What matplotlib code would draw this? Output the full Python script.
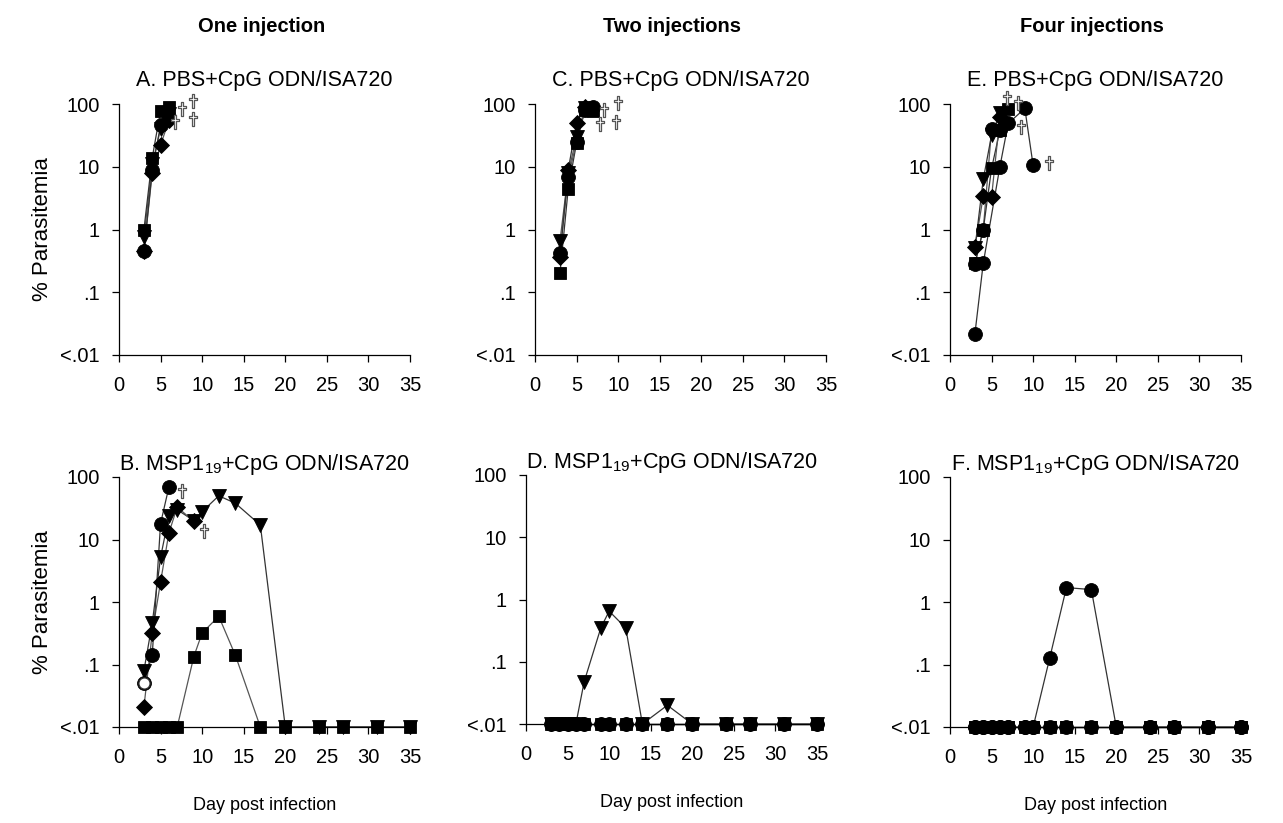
import numpy as np
import matplotlib.pyplot as plt
from matplotlib.path import Path

plt.rcParams['font.family'] = ['Liberation Sans', 'DejaVu Sans']
plt.rcParams['mathtext.fontset'] = 'custom'
plt.rcParams['mathtext.rm'] = 'Liberation Sans'
plt.rcParams['mathtext.it'] = 'Liberation Sans:italic'

LOD = 0.01  # "<.01" detection limit
all_days = [3, 4, 5, 6, 7, 9, 10, 12, 14, 17, 20, 24, 27, 31, 35]

# ---- A. one injection, PBS ----
a_days = [3, 4, 5, 6]
a_circle = [0.45, 9, 46, 62]
a_square = [1.0, 14, 78, 90]
a_diamond = [0.45, 8, 22, 55]
a_triangle = [0.75, 11, 40, 70]
a_dead_x = [6.75, 7.55, 8.9, 8.95]
a_dead_y = [52, 82, 57, 110]

# ---- B. one injection, MSP1-19 ----
b_circle_days = [3, 4, 5, 6]
b_circle = [0.051, 0.143, 18, 69]
b_diamond_days = [3, 4, 5, 6, 7, 9]
b_diamond = [0.021, 0.32, 2.1, 12.7, 33, 19.5]
b_triangle = [0.08, 0.46, 5.2, 23.5, 30, 20, 28, 50, 38, 17, LOD, LOD, LOD, LOD, LOD]
b_square = [LOD, LOD, LOD, LOD, LOD, 0.134, 0.32, 0.59, 0.14, LOD, LOD, LOD, LOD, LOD, LOD]
b_dead_x = [7.55, 10.2]
b_dead_y = [59, 13.5]

# ---- C. two injections, PBS ----
c_days5 = [3, 4, 5, 6, 7]
c_days4 = [3, 4, 5, 6]
c_square = [0.2, 4.5, 24, 80, 78]
c_circle = [0.42, 6.8, 25, 80, 88]
c_diamond = [0.37, 9, 50, 90]
c_triangle = [0.65, 8, 30, 85]
c_dead_x = [7.8, 8.3, 9.7, 9.95]
c_dead_y = [48, 80, 52, 105]

# ---- D. two injections, MSP1-19 ----
d_triangle = [LOD, LOD, LOD, LOD, 0.048, 0.35, 0.65, 0.35, LOD, 0.02, LOD, LOD, LOD, LOD, LOD]
d_flat = [LOD] * len(all_days)

# ---- E. four injections, PBS ----
e_square_days = [3, 4, 5, 6, 7]
e_square = [0.29, 1.0, 9.4, 38, 82]
e_diamond_days = [3, 4, 5, 6]
e_diamond = [0.53, 3.4, 3.3, 61]
e_triangle_days = [3, 4, 5, 6]
e_triangle = [0.5, 6.3, 32, 71]
e_circle1_days = [3, 4, 6, 7, 9, 10]
e_circle1 = [0.022, 0.29, 10, 49, 85, 10.5]
e_circle2_days = [3, 4, 5, 6]
e_circle2 = [0.28, 1.0, 40, 38]
e_dead_x = [6.85, 8.2, 8.55, 11.9]
e_dead_y = [123, 105, 43, 11.5]

# ---- F. four injections, MSP1-19 ----
f_circle = [LOD, LOD, LOD, LOD, LOD, LOD, LOD, 0.128, 1.7, 1.58, LOD, LOD, LOD, LOD, LOD]
f_flat = [LOD] * len(all_days)

# hollow latin cross marker for dead mice
cross = Path([(-0.15, -1), (0.15, -1), (0.15, 0.2), (0.55, 0.2), (0.55, 0.48),
              (0.15, 0.48), (0.15, 1), (-0.15, 1), (-0.15, 0.48), (-0.55, 0.48),
              (-0.55, 0.2), (-0.15, 0.2), (-0.15, -1)], closed=True)

W, H = 1283, 823
fig = plt.figure(figsize=(W / 100, H / 100), dpi=100)


def make_ax(left, right, top, bottom):
    ax = fig.add_axes([left / W, 1 - bottom / H, (right - left) / W, (bottom - top) / H])
    ax.set_yscale('log')
    ax.set_ylim(0.01, 100)
    ax.set_xlim(0, 35)
    ax.set_yticks([0.01, 0.1, 1, 10, 100])
    ax.set_yticklabels(['<.01', '.1', '1', '10', '100'])
    ax.minorticks_off()
    ax.set_xticks(range(0, 36, 5))
    for s in ['top', 'right']:
        ax.spines[s].set_visible(False)
    for s in ['left', 'bottom']:
        ax.spines[s].set_linewidth(0.9)
    ax.tick_params(axis='both', direction='out', length=5, width=0.9,
                   labelsize=14.5, colors='black')
    ax.tick_params(axis='y', pad=9)
    ax.tick_params(axis='x', pad=10)
    return ax


def series(ax, x, y, marker, ms, lc='#333333', mfc='black'):
    ax.plot(x, y, color=lc, lw=0.9, zorder=2, clip_on=False)
    ax.plot(x, y, ls='none', marker=marker, ms=ms, mfc=mfc, mec='black',
            mew=0.6, zorder=3, clip_on=False)


def dead(ax, x, y):
    ax.plot(x, y, ls='none', marker=cross, ms=10, mfc='white',
            mec='#555555', mew=0.9, zorder=4, clip_on=False)


axA = make_ax(119, 410, 104, 355)
axB = make_ax(119, 410, 477, 727)
axC = make_ax(535, 826, 104, 355)
axD = make_ax(526, 817, 475, 724)
axE = make_ax(950, 1241, 104, 355)
axF = make_ax(950, 1241, 477, 727)

CIR, SQ, DIA, TRI = 10, 9, 8.5, 10

# A
series(axA, a_days, a_triangle, 'v', TRI, '#555555')
series(axA, a_days, a_diamond, 'D', DIA, '#555555')
series(axA, a_days, a_circle, 'o', CIR)
series(axA, a_days, a_square, 's', SQ)
dead(axA, a_dead_x, a_dead_y)

# B
series(axB, all_days, b_square, 's', SQ, '#555555')
series(axB, all_days, b_triangle, 'v', TRI)
series(axB, b_diamond_days, b_diamond, 'D', DIA, '#555555')
series(axB, b_circle_days, b_circle, 'o', CIR)
axB.plot(b_circle_days[0], b_circle[0], marker='o', ms=8, mfc='white', mec='#333333',
         mew=0.9, zorder=4)
dead(axB, b_dead_x, b_dead_y)

# C
series(axC, c_days4, c_triangle, 'v', TRI, '#555555')
series(axC, c_days5, c_square, 's', SQ)
series(axC, c_days5, c_circle, 'o', CIR, '#555555')
series(axC, c_days4, c_diamond, 'D', DIA)
dead(axC, c_dead_x, c_dead_y)

# D
series(axD, all_days, d_flat, 's', SQ - 1)
series(axD, all_days, d_flat, 'D', DIA - 1)
series(axD, all_days, d_triangle, 'v', TRI)
series(axD, all_days, d_flat, 'o', CIR)

# E
series(axE, e_circle2_days, e_circle2, 'o', CIR, '#555555')
series(axE, e_square_days, e_square, 's', SQ)
series(axE, e_diamond_days, e_diamond, 'D', DIA, '#555555')
series(axE, e_triangle_days, e_triangle, 'v', TRI)
series(axE, e_circle1_days, e_circle1, 'o', CIR)
dead(axE, e_dead_x, e_dead_y)

# F
series(axF, all_days, f_flat, 's', SQ - 1)
series(axF, all_days, f_flat, 'v', TRI - 1)
series(axF, all_days, f_circle, 'o', CIR)
series(axF, all_days, f_flat, 'o', CIR)

# titles
axA.set_title('A. PBS+CpG ODN/ISA720', fontsize=15.5, pad=13)
axC.set_title('C. PBS+CpG ODN/ISA720', fontsize=15.5, pad=13)
axE.set_title('E. PBS+CpG ODN/ISA720', fontsize=15.5, pad=13)
axB.set_title(r'B. MSP1$_{\mathrm{19}}$+CpG ODN/ISA720', fontsize=15.5, pad=1)
axD.set_title(r'D. MSP1$_{\mathrm{19}}$+CpG ODN/ISA720', fontsize=15.5, pad=3)
axF.set_title(r'F. MSP1$_{\mathrm{19}}$+CpG ODN/ISA720', fontsize=15.5, pad=1)

axA.set_ylabel('% Parasitemia', fontsize=16, labelpad=5)
axB.set_ylabel('% Parasitemia', fontsize=16, labelpad=5)

for ax in [axB, axD, axF]:
    ax.set_xlabel('Day post infection', fontsize=13, labelpad=22)

fig.text(262 / W, 1 - 27 / H, 'One injection', fontsize=14.5, fontweight='bold',
         ha='center', va='center')
fig.text(672 / W, 1 - 27 / H, 'Two injections', fontsize=14.5, fontweight='bold',
         ha='center', va='center')
fig.text(1092 / W, 1 - 27 / H, 'Four injections', fontsize=14.5, fontweight='bold',
         ha='center', va='center')

fig.savefig('out.png', dpi=100)
